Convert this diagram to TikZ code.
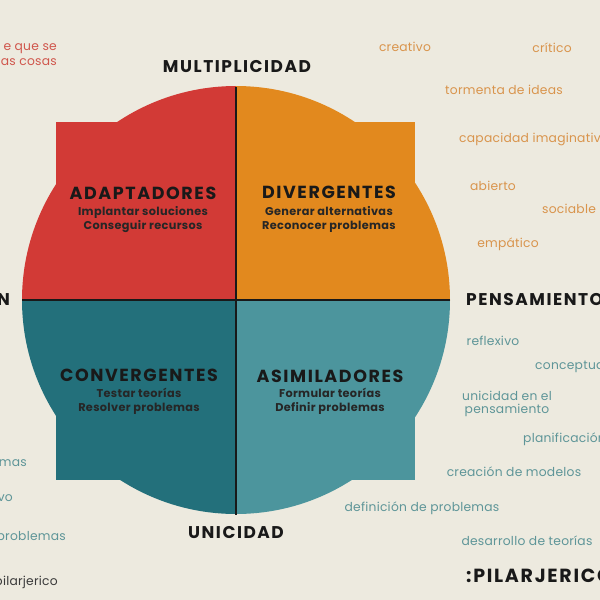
\documentclass[tikz,border=0pt]{standalone}
\usepackage{fontspec}
\setmainfont{Poppins}
\newfontfamily\headfont[LetterSpace=9]{Poppins}
\newfontfamily\subfont[LetterSpace=3]{Poppins}
\newfontfamily\sidefont[LetterSpace=2]{Poppins}
\definecolor{bg}{HTML}{EDEADF}
\definecolor{cred}{HTML}{D23A36}
\definecolor{corange}{HTML}{E2891E}
\definecolor{cdteal}{HTML}{23707B}
\definecolor{clteal}{HTML}{4C959D}
\definecolor{tred}{HTML}{D0564C}
\definecolor{torange}{HTML}{D9944C}
\definecolor{tteal}{HTML}{5E9598}
\definecolor{tgray}{HTML}{3A3A3A}
\begin{document}
\begin{tikzpicture}[x=1pt,y=-1pt,
  head/.style={font=\headfont\bfseries\fontsize{17.5}{20}\selectfont, text=black!90, inner sep=0pt},
  subt/.style={font=\subfont\bfseries\fontsize{11.3}{14}\selectfont, text=black!85, align=center, inner sep=0pt},
  axis/.style={font=\headfont\bfseries\fontsize{17}{20}\selectfont, text=black!90, inner sep=0pt},
  sideo/.style={font=\sidefont\fontsize{12.3}{14}\selectfont, text=torange, inner sep=0pt},
  sidet/.style={font=\sidefont\fontsize{12.3}{13}\selectfont, text=tteal, inner sep=0pt, align=center},
  sider/.style={font=\sidefont\fontsize{12.3}{15}\selectfont, text=tred, inner sep=0pt, align=right},
  divider/.style={line width=2.4pt, black!90}
]
\useasboundingbox (0,0) rectangle (600,600);
\fill[bg] (0,0) rectangle (600,600);
\clip (0,0) rectangle (600,600);
% quadrants
\begin{scope}\clip (0,0) rectangle (236,300);
  \fill[cred] (236,300) circle[radius=214]; \fill[cred] (56,122) rectangle (415,480);
\end{scope}
\begin{scope}\clip (236,0) rectangle (600,300);
  \fill[corange] (236,300) circle[radius=214]; \fill[corange] (56,122) rectangle (415,480);
\end{scope}
\begin{scope}\clip (0,300) rectangle (236,600);
  \fill[cdteal] (236,300) circle[radius=214]; \fill[cdteal] (56,122) rectangle (415,480);
\end{scope}
\begin{scope}\clip (236,300) rectangle (600,600);
  \fill[clteal] (236,300) circle[radius=214]; \fill[clteal] (56,122) rectangle (415,480);
\end{scope}
\coordinate (top) at (236,87);
\coordinate (bot) at (236,515);
\coordinate (lft) at (22,300);
\coordinate (rgt) at (450,300);
\draw[divider] (top) -- (bot);
\draw[divider] (lft) -- (rgt);
% quadrant labels
\node[head] (ad) at (143,193) {ADAPTADORES};
\node[subt] (ads) at (143,220) {Implantar soluciones\\Conseguir recursos};
\node[head] (dv) at (329,192) {DIVERGENTES};
\node[subt] (dvs) at (329,219) {Generar alternativas\\Reconocer problemas};
\node[head] (cv) at (139,375) {CONVERGENTES};
\node[subt] (cvs) at (139,401) {Testar teorías\\Resolver problemas};
\node[head] (as) at (330,376) {ASIMILADORES};
\node[subt] (ass) at (330,401) {Formular teorías\\Definir problemas};
% axes
\node[axis] (mult) at (237,67) {MULTIPLICIDAD};
\node[axis] (uni) at (236,533) {UNICIDAD};
\node[axis, anchor=west] (pens) at (466,300) {PENSAMIENTO};
\node[axis, anchor=east] (nleft) at (10,300) {N};
% left texts
\node[sider, anchor=east] (lr) at (57,55) {e que se\\las cosas};
\node[sidet, anchor=east] (l1) at (27,463) {mas};
\node[sidet, anchor=east] (l2) at (13,498) {vo};
\node[sidet, anchor=east] (l3) at (66,538) {problemas};
\node[sidet, anchor=east, text=tgray] (l4) at (58,582) {pilarjerico};
% right orange
\node[sideo] (o1) at (405,47) {creativo};
\node[sideo] (o2) at (552,48) {crítico};
\node[sideo] (o3) at (504,90) {tormenta de ideas};
\node[sideo, anchor=west] (o4) at (459,139) {capacidad imaginativa};
\node[sideo] (o5) at (493,186) {abierto};
\node[sideo] (o6) at (569,209) {sociable};
\node[sideo] (o7) at (508,244) {empático};
% right teal
\node[sidet] (t1) at (493,341) {reflexivo};
\node[sidet, anchor=west] (t2) at (535,367) {conceptual};
\node[sidet] (t3) at (507,404) {unicidad en el\\pensamiento};
\node[sidet, anchor=west] (t4) at (523,439) {planificación};
\node[sidet] (t5) at (514,472) {creación de modelos};
\node[sidet] (t6) at (422,508) {definición de problemas};
\node[sidet] (t7) at (527,541) {desarrollo de teorías};
\node[axis, anchor=west, font=\headfont\bfseries\fontsize{19}{22}\selectfont] (pj) at (466,576) {:PILARJERICO};
\end{tikzpicture}
\end{document}
